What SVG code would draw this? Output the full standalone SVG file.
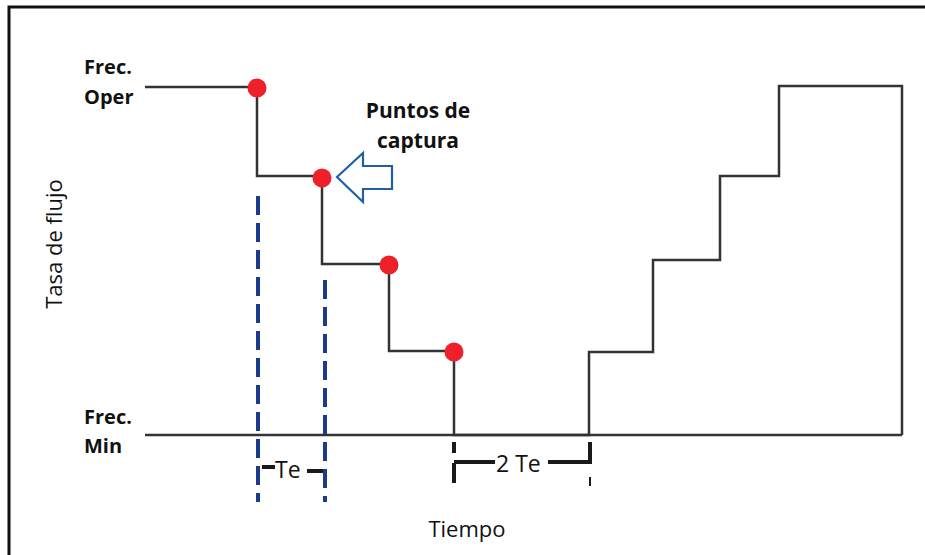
<svg xmlns="http://www.w3.org/2000/svg" width="925" height="555" viewBox="0 0 925 555">
<style>
.lbl{font-family:"Open Sans","Liberation Sans",sans-serif;fill:#111}
.b{font-weight:bold;font-size:20px}
.p{font-weight:bold;font-size:21px}
.n{font-size:22px}
.t{font-size:23px}
.step{fill:none;stroke:#333;stroke-width:2.5}
.dash{stroke:#1c3a8c;stroke-width:4;stroke-dasharray:19 8}
.pt{fill:#f0202a}
.brk{stroke:#1a1a1a;stroke-width:4;fill:none}
</style>
<rect x="0" y="0" width="925" height="555" fill="#fff"/>
<g id="frame"><path d="M9,555 V7 H925" fill="none" stroke="#111" stroke-width="3"/></g>

<g id="labels">
<text class="lbl b" x="84" y="74">Frec.</text>
<text class="lbl b" x="84" y="104">Oper</text>
<text class="lbl b" x="84" y="424">Frec.</text>
<text class="lbl b" x="84" y="453">Min</text>
<text class="lbl n" transform="translate(62,244) rotate(-90)" text-anchor="middle">Tasa de flujo</text>
<text class="lbl n" x="467" y="537" text-anchor="middle">Tiempo</text>
<text class="lbl p" x="418" y="118" text-anchor="middle">Puntos de</text>
<text class="lbl p" x="418" y="148" text-anchor="middle">captura</text>
</g>

<g id="connectors">
<path class="step" d="M145,435 H902"/>
<path class="step" d="M145,87 H257 V176 H322 V264 H389 V351 H454 V435 H589 V352 H653 V260 H720 V176 H779 V86 H902 V435"/>
<line class="dash" x1="258" y1="196" x2="258" y2="502"/>
<line class="dash" x1="325" y1="280" x2="325" y2="502"/>
</g>

<g id="capture-points">
<circle class="pt" cx="257" cy="88" r="9.5"/>
<circle class="pt" cx="322" cy="178" r="9.5"/>
<circle class="pt" cx="389" cy="265" r="9.5"/>
<circle class="pt" cx="454" cy="352" r="9.5"/>
</g>

<g id="arrow">
<path d="M337,177 L363,153 V166 H392 V189 H363 V202 Z" fill="#fff" stroke="#1f5fa8" stroke-width="2.2" stroke-linejoin="miter"/>
</g>

<g id="te">
<line class="brk" x1="262" y1="467" x2="275" y2="467"/>
<text class="lbl t" x="275" y="478" fill="#222">Te</text>
<line class="brk" x1="307" y1="471" x2="323" y2="471"/>
</g>

<g id="two-te">
<line class="brk" x1="454" y1="442" x2="454" y2="453"/>
<line class="brk" x1="454" y1="463" x2="454" y2="483"/>
<line class="brk" x1="454" y1="462" x2="495" y2="462"/>
<text class="lbl t" x="496" y="472" fill="#222">2 Te</text>
<line class="brk" x1="548" y1="462" x2="590" y2="462"/>
<line class="brk" x1="590" y1="442" x2="590" y2="464"/>
<line x1="590" y1="477" x2="590" y2="486" stroke="#1a1a1a" stroke-width="2"/>
</g>
</svg>
